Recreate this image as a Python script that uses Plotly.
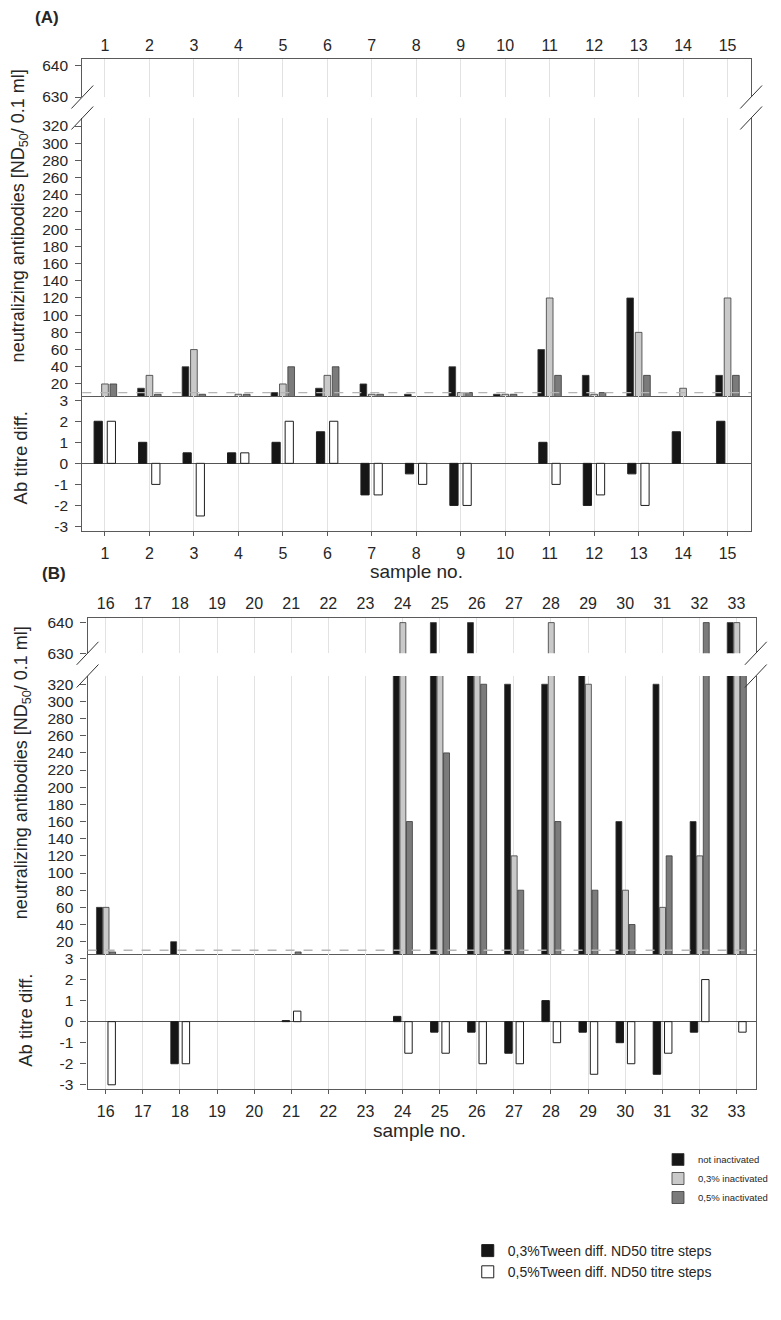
import plotly.graph_objects as go

# reference canvas 781x1320; the page body adds an 8px margin, so the figure is 16px smaller
REF_W, REF_H = 781, 1320
OFF = 8
W, H = REF_W - 2 * OFF, REF_H - 2 * OFF

# ---------------- data ----------------
samples_a = list(range(1, 16))
not_inact_a = [5, 15, 40, 5, 10, 15, 20, 8, 40, 8, 60, 30, 120, 5, 30]
inact03_a = [20, 30, 60, 8, 20, 30, 8, 5, 10, 8, 120, 8, 80, 15, 120]
inact05_a = [20, 8, 8, 8, 40, 40, 8, 5, 10, 8, 30, 10, 30, 5, 30]
diff03_a = [2, 1, 0.5, 0.5, 1, 1.5, -1.5, -0.5, -2, None, 1, -2, -0.5, 1.5, 2]
diff05_a = [2, -1, -2.5, 0.5, 2, 2, -1.5, -1, -2, None, -1, -1.5, -2, None, None]

samples_b = list(range(16, 34))
not_inact_b = [60, None, 20, None, None, 5, None, None, 480, 640, 640, 320, 320, 450, 160, 320, 160, 640]
inact03_b = [60, None, 5, None, None, 5, None, None, 640, 450, 450, 120, 640, 320, 80, 60, 120, 640]
inact05_b = [8, None, 5, None, None, 8, None, None, 160, 240, 320, 80, 160, 80, 40, 120, 640, 450]
diff03_b = [None, None, -2, None, None, 0.05, None, None, 0.25, -0.5, -0.5, -1.5, 1, -0.5, -1, -2.5, -0.5, None]
diff05_b = [-3, None, -2, None, None, 0.5, None, None, -1.5, -1.5, -2, -2, -1, -2.5, -2, -1.5, 2, -0.5]

cutoff = 10
upper_ticks = [630, 640]
lower_ticks = list(range(20, 321, 20))
diff_ticks = [-3, -2, -1, 0, 1, 2, 3]

series_names = ["not inactivated", "0,3% inactivated", "0,5% inactivated"]
diff_names = ["0,3%Tween diff. ND50 titre steps", "0,5%Tween diff. ND50 titre steps"]

# ---------------- style ----------------
FONT = "Liberation Sans, Arial, sans-serif"
TXT = "#262626"
C_BLACK = "#161616"
C_LIGHT = "#c9c9c9"
C_DARK = "#7b7b7b"
C_OUT = "#3a3a3a"
AXC = "#5a5a5a"
GRID = "#e2e2e2"


def xp(px):
    return (px - OFF) / W


def yp(py):
    return 1 - (py - OFF) / H


# panel geometry (paper fractions from reference pixel positions)
A = dict(x=[xp(83), xp(758)], up=[yp(97), yp(59)], low=[yp(396), yp(118)], diff=[yp(530.7), yp(396)],
         xr=[0.49, 15.53], lr=[6, 329.3], ur=[630, 642])
B = dict(x=[xp(88.3), xp(762.7)], up=[yp(653.3), yp(617.7)], low=[yp(954.3), yp(676)], diff=[yp(1089), yp(954.3)],
         xr=[15.51, 33.52], lr=[5.3, 329.6], ur=[630, 641.6])

fig = go.Figure()

colors = [C_BLACK, C_LIGHT, C_DARK]


def add_panel(samples, vals, diffs, axn, widths, offs, dwidth, doffs, legend_on):
    for seg, ax in zip(("up", "low"), axn[:2]):
        xa = "x" if ax == 1 else f"x{ax}"
        ya = "y" if ax == 1 else f"y{ax}"
        for i, (v, c, nm) in enumerate(zip(vals, colors, series_names)):
            fig.add_trace(go.Bar(
                x=samples, y=v, xaxis=xa, yaxis=ya, name=nm,
                marker=dict(color=c, line=dict(color=C_OUT, width=0.8)),
                width=widths, offset=offs[i],
                showlegend=(legend_on and seg == "low"), legend="legend",
                legendgroup="inact", hoverinfo="skip"))
    ax = axn[2]
    for i, (d, c, nm) in enumerate(zip(diffs, [C_BLACK, "#ffffff"], diff_names)):
        fig.add_trace(go.Bar(
            x=samples, y=d, xaxis=f"x{ax}", yaxis=f"y{ax}", name=nm,
            marker=dict(color=c, line=dict(color="#1e1e1e", width=1)),
            width=dwidth, offset=doffs[i],
            showlegend=legend_on, legend="legend2", legendgroup="diff", hoverinfo="skip"))


add_panel(samples_a, [not_inact_a, inact03_a, inact05_a], [diff03_a, diff05_a], (1, 2, 3),
          0.15, [-0.265, -0.075, 0.112], 0.185, [-0.245, 0.051], True)
add_panel(samples_b, [not_inact_b, inact03_b, inact05_b], [diff03_b, diff05_b], (4, 5, 6),
          0.16, [-0.25, -0.072, 0.105], 0.2, [-0.245, 0.06], False)

tickfont_x = dict(family=FONT, size=16, color=TXT)
tickfont_y = dict(family=FONT, size=15.5, color=TXT)


def ax_key(kind, n):
    return kind + ("axis" if n == 1 else f"axis{n}")


def axref(kind, n):
    return kind if n == 1 else f"{kind}{n}"


layout_axes = {}
for P, (nu, nl, nd), samples in ((A, (1, 2, 3), samples_a), (B, (4, 5, 6), samples_b)):
    common_x = dict(domain=P["x"], range=P["xr"], tickvals=samples, ticktext=[str(s) for s in samples],
                    showgrid=True, gridcolor=GRID, gridwidth=1, zeroline=False,
                    showline=True, linecolor=AXC, linewidth=1.2, tickfont=tickfont_x,
                    fixedrange=True, automargin=False)
    layout_axes[ax_key("x", nu)] = dict(common_x, anchor=axref("y", nu), side="top", ticks="",
                                        showticklabels=True, ticklabelstandoff=1)
    layout_axes[ax_key("x", nl)] = dict(common_x, anchor=axref("y", nl), side="bottom", ticks="outside",
                                        ticklen=4, tickcolor=AXC, showticklabels=False)
    layout_axes[ax_key("x", nd)] = dict(common_x, anchor=axref("y", nd), side="bottom", ticks="outside",
                                        ticklen=4, tickcolor=AXC, showticklabels=True, ticklabelstandoff=4)
    common_y = dict(showgrid=False, showline=True, linecolor=AXC, linewidth=1.2, mirror=True,
                    ticks="outside", ticklen=6, tickcolor=AXC, tickfont=tickfont_y,
                    fixedrange=True, automargin=False, ticklabelstandoff=4)
    layout_axes[ax_key("y", nu)] = dict(common_y, domain=P["up"], anchor=axref("x", nu), range=P["ur"],
                                        tickvals=upper_ticks, zeroline=False)
    layout_axes[ax_key("y", nl)] = dict(common_y, domain=P["low"], anchor=axref("x", nl), range=P["lr"],
                                        tickvals=lower_ticks, zeroline=False)
    layout_axes[ax_key("y", nd)] = dict(common_y, domain=P["diff"], anchor=axref("x", nd), range=[-3.2, 3.2],
                                        tickvals=diff_ticks, ticktext=[str(t) for t in diff_ticks],
                                        zeroline=True, zerolinecolor="#555555", zerolinewidth=1.2)

shapes = []
# detection-limit dashed lines
for n in (2, 5):
    shapes.append(dict(type="line", xref=f"x{n} domain", yref=f"y{n}", x0=0, x1=1, y0=cutoff, y1=cutoff,
                       line=dict(color="#b5b5b5", width=1.3, dash="dash"), layer="above"))

# axis-break slashes
for P in (A, B):
    for xd in P["x"]:
        for yd in (P["up"][0], P["low"][1]):
            cx, cy = xd * W + OFF, (1 - yd) * H + OFF
            shapes.append(dict(type="line", xref="paper", yref="paper",
                               x0=xp(cx - 11), y0=yp(cy + 11.5), x1=xp(cx + 11), y1=yp(cy - 11.5),
                               line=dict(color="#333333", width=1)))

ytitle = "neutralizing antibodies [ND<sub>50</sub>/ 0.1 ml]"
annotations = [
    dict(text="<b>(A)</b>", x=xp(33), y=yp(18), xanchor="left", yanchor="middle", font=dict(size=17)),
    dict(text="<b>(B)</b>", x=xp(40), y=yp(573), xanchor="left", yanchor="middle", font=dict(size=17)),
    dict(text=ytitle, x=xp(20.5), y=yp(216), textangle=-90, xanchor="center", yanchor="middle",
         font=dict(size=18)),
    dict(text=ytitle, x=xp(22.5), y=yp(773), textangle=-90, xanchor="center", yanchor="middle",
         font=dict(size=18)),
    dict(text="Ab titre diff.", x=xp(20.5), y=yp(458), textangle=-90, xanchor="center", yanchor="middle",
         font=dict(size=18.5)),
    dict(text="Ab titre diff.", x=xp(25), y=yp(1020), textangle=-90, xanchor="center", yanchor="middle",
         font=dict(size=18.5)),
    dict(text="sample no.", x=xp(420), y=yp(572), xanchor="center", yanchor="middle", font=dict(size=19)),
    dict(text="sample no.", x=xp(423), y=yp(1130), xanchor="center", yanchor="middle", font=dict(size=19)),
]
for a in annotations:
    a.update(xref="paper", yref="paper", showarrow=False)
    a["font"].update(family=FONT, color=TXT)

fig.update_layout(
    width=W, height=H, autosize=False,
    margin=dict(l=0, r=0, t=0, b=0, pad=0),
    paper_bgcolor="white", plot_bgcolor="white",
    barmode="overlay",
    font=dict(family=FONT, color=TXT),
    shapes=shapes, annotations=annotations,
    legend=dict(x=xp(664), y=yp(1145), xanchor="left", yanchor="top", bgcolor="rgba(0,0,0,0)",
                font=dict(family=FONT, size=9.5, color=TXT), tracegroupgap=0, itemwidth=30,
                traceorder="normal"),
    legend2=dict(x=xp(472), y=yp(1235), xanchor="left", yanchor="top", bgcolor="rgba(0,0,0,0)",
                 font=dict(family=FONT, size=14, color=TXT), tracegroupgap=0, itemwidth=30,
                 traceorder="normal"),
    **layout_axes,
)

fig.write_html("out.html")
